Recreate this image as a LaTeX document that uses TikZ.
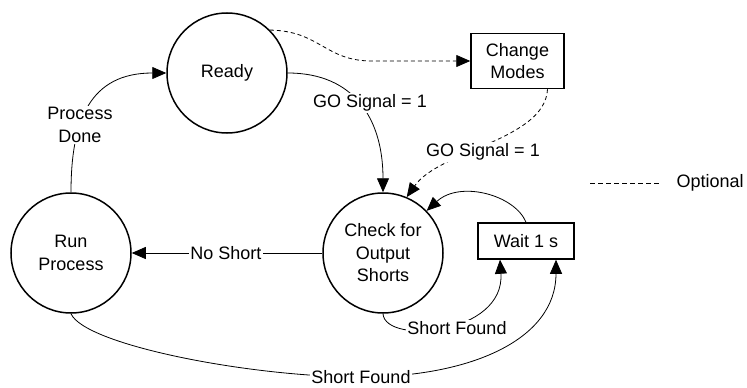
\documentclass[tikz,border=0pt]{standalone}
\usepackage{fontspec}
\setmainfont{Liberation Sans}
\usetikzlibrary{arrows.meta}
\begin{document}
\begin{tikzpicture}[x=1pt,y=-1pt,
  every node/.style={font=\fontsize{18}{22.5}\selectfont, align=center},
  state/.style={draw, circle, line width=1.5pt, minimum size=120pt, inner sep=0pt},
  box/.style={draw, rectangle, line width=1.5pt, inner sep=0pt},
  conn/.style={line width=0.8pt, -{Triangle[length=14pt,width=12pt]}},
  opt/.style={conn, dash pattern=on 4pt off 3pt},
  lbl/.style={fill=white, inner sep=1.5pt}]
\useasboundingbox (0,0) rectangle (747,388);

% states
\node[state] (ready) at (227,73) {Ready};
\node[state] (run) at (71,253) {Run\\Process};
\node[state] (check) at (383,253) {Check for\\Output\\Shorts};
\node[box, minimum width=93pt, minimum height=55pt] (change) at (517.5,61) {Change\\Modes};
\node[box, minimum width=96pt, minimum height=36pt] (wait) at (526,241) {Wait 1 s};

\coordinate (sf2c) at (361,377);
\coordinate (dip) at (372,61);

% connectors
\draw[conn] (run.north) .. controls (71,120) and (90,73) .. (ready.west);
\draw[conn] (ready.east) .. controls (355,73) and (383,120) .. (check.north);
\draw[opt] (ready.45) .. controls (320,31) and (325,61) .. (dip) -- (change.west);
\draw[opt] ([xshift=30pt]change.south) .. controls (545,140) and (440,150) .. (check.67);
\draw[conn] (check.west) -- (run.east);
\draw[conn] (check.south) .. controls (385,345) and (505,335) .. ([xshift=-26pt]wait.south);
\draw[conn] (run.south) .. controls (85,345) and (250,377) .. (sf2c)
  .. controls (470,377) and (556,340) .. ([xshift=30pt]wait.south);
\draw[conn] (wait.north) .. controls (515,195) and (460,180) .. (check.44);

% labels
\node[lbl] (pd) at (80,125) {Process\\Done};
\node[lbl] (go1) at (370,103) {GO Signal = 1};
\node[lbl] (go2) at (483,152) {GO Signal = 1};
\node[lbl] (ns) at (226,253) {No Short};
\node[lbl] (sf1) at (457,328) {Short Found};
\node[lbl] (sf2) at (sf2c) {Short Found};

% legend
\coordinate (optA) at (590,183);
\coordinate (optB) at (660,183);
\draw[line width=0.8pt, dash pattern=on 5pt off 3pt] (optA) -- (optB);
\node[anchor=west] (optl) at (673,183) {Optional};
\end{tikzpicture}
\end{document}
